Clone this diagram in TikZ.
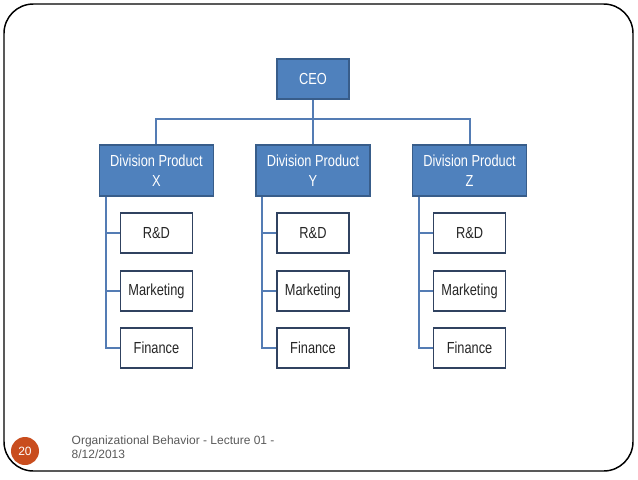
\documentclass[tikz,border=0pt]{standalone}
\usepackage{fontspec}
\setmainfont{Liberation Sans}
\newfontfamily\boxfont[FakeStretch=0.8]{Liberation Sans}
\definecolor{divblue}{RGB}{79,129,189}
\definecolor{divedge}{RGB}{56,93,138}
\definecolor{subedge}{RGB}{48,66,96}
\definecolor{linkblue}{RGB}{84,124,180}
\definecolor{slideorange}{RGB}{201,77,30}
\definecolor{footgray}{RGB}{89,89,89}

\tikzstyle{ceobox} = [align=center, rectangle, draw=divedge, fill=divblue, text=white, line width=1.2pt, minimum width=54pt, minimum height=30pt, font=\boxfont\fontsize{12}{15}\selectfont]
\tikzstyle{divbox} = [ceobox, minimum width=85.5pt, minimum height=38.25pt]
\tikzstyle{subbox} = [align=center, rectangle, draw=subedge, fill=white, text=black!85, line width=1.2pt, minimum width=54pt, minimum height=30pt, font=\boxfont\fontsize{12}{15}\selectfont]
\tikzstyle{link} = [draw=linkblue, line width=1.5pt]

\begin{document}
\begin{tikzpicture}[x=0.75pt, y=0.75pt]
\useasboundingbox (0,0) rectangle (638,-479);
\draw [line width=1.1pt, rounded corners=22pt] (4,-4) rectangle (633,-471);
\node [ceobox] (ceo) at (313,-79) {CEO};
\node [divbox, below of=ceo, node distance=68.6pt] (divy) {Division Product\\Y};
\node [divbox, left of=divy, node distance=117.4pt] (divx) {Division Product\\X};
\node [divbox, right of=divy, node distance=117.4pt] (divz) {Division Product\\Z};
\foreach \d in {x,y,z} {
  \node [subbox, below of=div\d, node distance=46.9pt] (rd\d) {R\&D};
  \node [subbox, below of=rd\d, node distance=43.4pt] (mkt\d) {Marketing};
  \node [subbox, below of=mkt\d, node distance=43pt] (fin\d) {Finance};
  \coordinate (spine\d) at ([xshift=5.25pt]div\d.south west);
  \draw [link] (spine\d) |- (fin\d.west);
  \draw [link] (spine\d |- rd\d.west) -- (rd\d.west);
  \draw [link] (spine\d |- mkt\d.west) -- (mkt\d.west);
}
\draw [link] (ceo.south) -- ++(0,-19) coordinate (bus);
\draw [link] (divx.north) |- (bus) -| (divz.north);
\draw [link] (divy.north) -- (bus);
\node [circle, fill=slideorange, minimum size=21pt, inner sep=0pt, text=white, font=\fontsize{9}{10}\selectfont] (num) at (25,-451) {20};
\node [anchor=west, align=left, text=footgray, font=\fontsize{9}{10.5}\selectfont] (foot) at (67,-447) {Organizational Behavior - Lecture 01 -\\8/12/2013};
\end{tikzpicture}
\end{document}
